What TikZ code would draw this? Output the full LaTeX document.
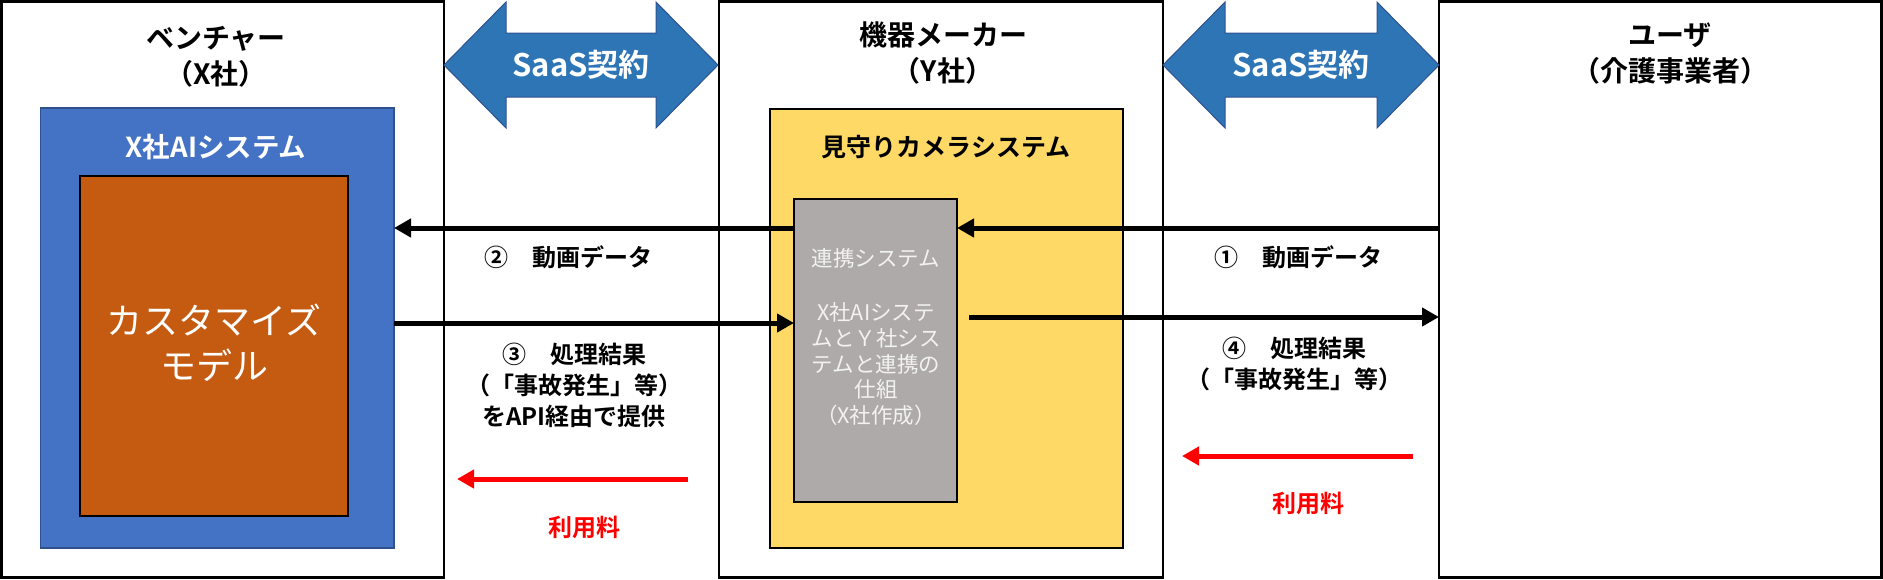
\documentclass[tikz,border=0pt]{standalone}
\usepackage{fontspec}
\setmainfont{Noto Sans CJK JP}[BoldFont={Noto Sans CJK JP Bold}]
\usetikzlibrary{arrows.meta}
\definecolor{bluefill}{HTML}{4472C4}
\definecolor{blueline}{HTML}{2F528F}
\definecolor{orangefill}{HTML}{C55A11}
\definecolor{yellowfill}{HTML}{FFD966}
\definecolor{grayfill}{HTML}{AEAAAA}
\definecolor{saasfill}{HTML}{2E75B6}
\definecolor{graytext}{HTML}{F2F2F2}
\definecolor{redline}{HTML}{FF0000}
\begin{document}
\begin{tikzpicture}[x=1pt,y=-1pt,
  box/.style={draw=black,line width=2.5pt,anchor=north west,inner sep=0pt,outer sep=0pt},
  outerbox/.style={box,fill=white},
  aibox/.style={box,draw=blueline,line width=1.5pt,fill=bluefill},
  modelbox/.style={box,fill=orangefill},
  camerabox/.style={box,fill=yellowfill},
  linkbox/.style={box,fill=grayfill},
  saas/.style={fill=saasfill,draw=blueline,line width=1pt},
  txt/.style={inner sep=0pt,align=center},
  head/.style={txt,font=\bfseries\fontsize{28}{36}\selectfont},
  lbl/.style={txt,font=\bfseries\fontsize{24}{31}\selectfont},
  arr/.style={line width=5pt,-{Triangle[length=17pt,width=18pt]}},
  redarr/.style={arr,draw=redline,-{Triangle[length=17pt,width=18pt,fill=redline]}},
]
\useasboundingbox (0,0) rectangle (1883,579);

% outer boxes
\node[outerbox,minimum width=442.75pt,minimum height=576.25pt] (venture) at (1.25,1.25) {};
\node[outerbox,minimum width=444pt,minimum height=576.25pt] (maker) at (719,1.25) {};
\node[outerbox,minimum width=442.25pt,minimum height=576.25pt] (user) at (1439,1.25) {};

% inner boxes
\node[aibox,minimum width=353.5pt,minimum height=440pt] (blue) at (40.5,108) {};
\node[modelbox,minimum width=268pt,minimum height=340pt] (model) at (80,176) {};
\node[camerabox,minimum width=353pt,minimum height=439pt] (camera) at (770,109) {};
\node[linkbox,minimum width=163pt,minimum height=303pt] (gray) at (794,199) {};

% SaaS double arrows
\path[saas] (444,65) -- (506,2) -- (506,33) -- (656,33) -- (656,2) -- (718,65)
  -- (656,128) -- (656,97) -- (506,97) -- (506,128) -- cycle;
\path[saas] (1163,65) -- (1225,2) -- (1225,33) -- (1377,33) -- (1377,2) -- (1439,65)
  -- (1377,128) -- (1377,97) -- (1225,97) -- (1225,128) -- cycle;
\node[txt,text=white,font=\bfseries\fontsize{31}{36}\selectfont] (saas1) at (581,65) {SaaS契約};
\node[txt,text=white,font=\bfseries\fontsize{31}{36}\selectfont] (saas2) at (1301,65) {SaaS契約};

% headings
\node[head] (hventure) at (216,57) {ベンチャー\\（X社）};
\node[head] (hmaker) at (943,53) {機器メーカー\\（Y社）};
\node[head] (huser) at (1670,54) {ユーザ\\（介護事業者）};

\node[txt,text=white,font=\bfseries\fontsize{27.5}{32}\selectfont] (hai) at (216,147) {X社AIシステム};
\node[txt,font=\bfseries\fontsize{25}{30}\selectfont] (hcam) at (946,147) {見守りカメラシステム};
\node[txt,text=white,font=\fontsize{36}{45}\selectfont] (hmodel) at (214,343) {カスタマイズ\\モデル};
\node[txt,text=graytext,font=\fontsize{21.5}{26}\selectfont] (hlink) at (876,258) {連携システム};
\node[txt,text=graytext,font=\fontsize{21.5}{25.7}\selectfont] (hlinkdesc) at (876,364)
  {X社AIシステ\\ムとＹ社シス\\テムと連携の\\仕組\\（X社作成）};

% connectors
\coordinate (yA) at (0,228);
\coordinate (yB) at (0,323);
\coordinate (c4) at (969,317);
\draw[arr] (user.west |- yA) -- (gray.east |- yA);
\draw[arr] (gray.west |- yA) -- (blue.east |- yA);
\draw[arr] (blue.east |- yB) -- (gray.west |- yB);
\draw[arr] (c4) -- (user.west |- c4);

\coordinate (r1s) at (688,479);
\coordinate (r1e) at (457,479);
\coordinate (r2s) at (1413,456);
\coordinate (r2e) at (1182,456);
\draw[redarr] (r1s) -- (r1e);
\draw[redarr] (r2s) -- (r2e);

% labels
\node[lbl] (l2) at (568,257) {②　動画データ};
\node[lbl] (l1) at (1298,257) {①　動画データ};
\node[lbl] (l3) at (574,385) {③　処理結果\\（「事故発生」等）\\をAPI経由で提供};
\node[lbl] (l4) at (1294,364) {④　処理結果\\（「事故発生」等）};
\node[lbl,text=redline] (fee1) at (584,527) {利用料};
\node[lbl,text=redline] (fee2) at (1308,503) {利用料};
\end{tikzpicture}
\end{document}
